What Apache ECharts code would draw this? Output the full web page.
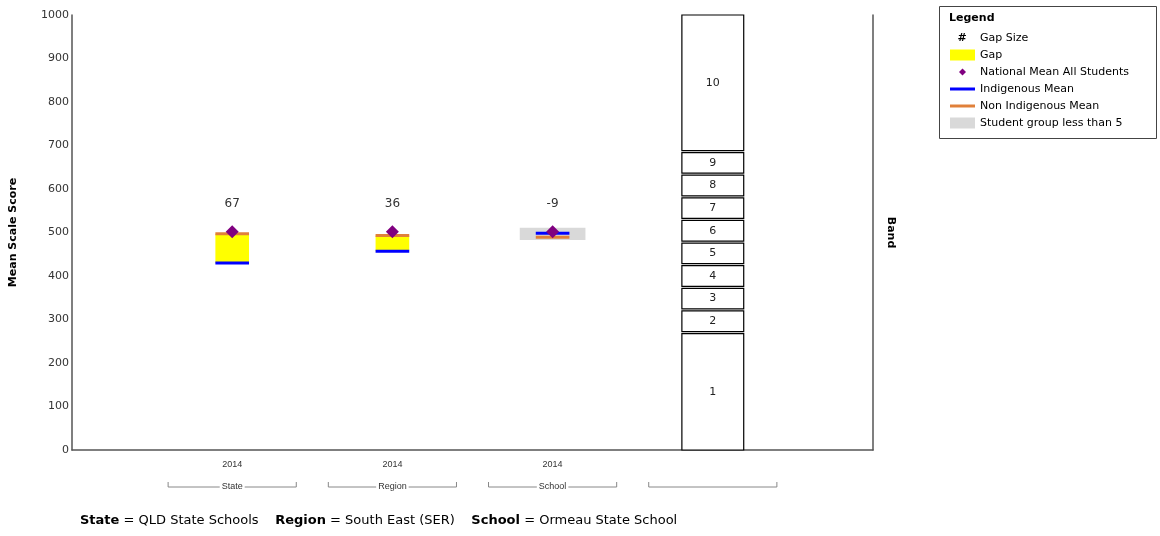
<!DOCTYPE html>
<html><head><meta charset="utf-8">
<script src="https://cdn.jsdelivr.net/npm/echarts@6/dist/echarts.min.js"></script>
<style>html,body{margin:0;padding:0;background:#fff}#c{width:1160px;height:536px}</style>
</head><body><div id="c"></div>
<script>
// ---- data ----
const groups = ['State', 'Region', 'School'];
const years = ['2014', '2014', '2014'];
const indigenousMean = [430, 457, 498];
const nonIndigenousMean = [497, 493, 489];
const nationalMean = [502, 502, 502];
const gapSize = [67, 36, -9];
const smallGroupLow = [null, null, 483];
const smallGroupHigh = [null, null, 511];
const bandEdges = [0, 270, 322, 374, 426, 478, 530, 582, 634, 686, 1000];
const bandLabels = ['1', '2', '3', '4', '5', '6', '7', '8', '9', '10'];
const captionNames = ['State', 'Region', 'School'];
const captionValues = ['QLD State Schools', 'South East (SER)', 'Ormeau State School'];
const yTicks = [0, 100, 200, 300, 400, 500, 600, 700, 800, 900, 1000];

const FONT = "'DejaVu Sans', Arial, sans-serif";
const SMALL = "'Liberation Sans', Arial, sans-serif";
const bandPos = groups.length + 1;

// derived series data
const gapData = [], greyData = [], indData = [], nonData = [], natData = [], labelData = [];
groups.forEach((g, i) => {
  const x = i + 1;
  if (gapSize[i] > 0) gapData.push([x, Math.min(indigenousMean[i], nonIndigenousMean[i]), Math.max(indigenousMean[i], nonIndigenousMean[i])]);
  if (smallGroupLow[i] != null) greyData.push([x, smallGroupLow[i], smallGroupHigh[i]]);
  indData.push([x, indigenousMean[i]]);
  nonData.push([x, nonIndigenousMean[i]]);
  natData.push([x, nationalMean[i]]);
  labelData.push([x, Math.max(indigenousMean[i], nonIndigenousMean[i], nationalMean[i]), gapSize[i]]);
});
const bandData = bandLabels.map((b, i) => [bandPos, bandEdges[i], bandEdges[i + 1]]);

function rectRender(halfW, fill) {
  return function (params, api) {
    const x = api.value(0), lo = api.value(1), hi = api.value(2);
    const p1 = api.coord([x - halfW, hi]);
    const p2 = api.coord([x + halfW, lo]);
    return { type: 'rect', shape: { x: p1[0], y: p1[1], width: p2[0] - p1[0], height: p2[1] - p1[1] }, style: { fill: fill } };
  };
}
function lineRender(halfW, color) {
  return function (params, api) {
    const x = api.value(0), v = api.value(1);
    const p1 = api.coord([x - halfW, v]);
    const p2 = api.coord([x + halfW, v]);
    return { type: 'rect', shape: { x: p1[0], y: p1[1] - 1.5, width: p2[0] - p1[0], height: 3 }, style: { fill: color } };
  };
}

const chart = echarts.init(document.getElementById('c'), null, { renderer: 'canvas' });
const option = {
  animation: false,
  textStyle: { fontFamily: FONT },
  grid: { left: 70, right: 287, top: 15, bottom: 86 },
  xAxis: {
    type: 'value', min: 0, max: 5, interval: 1,
    axisLine: { show: true, lineStyle: { color: '#555', width: 1.5 } },
    axisTick: { show: false }, splitLine: { show: false },
    axisLabel: {
      fontSize: 9, color: '#333', margin: 10, fontFamily: SMALL,
      formatter: v => (v >= 1 && v <= groups.length) ? years[v - 1] : ''
    }
  },
  yAxis: [{
    type: 'value', min: 0, max: 1000, interval: 100,
    name: 'Mean Scale Score', nameLocation: 'middle', nameGap: 53,
    nameTextStyle: { fontWeight: 'bold', fontSize: 11, color: '#000', fontFamily: FONT },
    axisLine: { show: true, lineStyle: { color: '#555', width: 1.5 } },
    axisTick: { show: false }, splitLine: { show: false },
    axisLabel: { fontSize: 11, color: '#333', margin: 3, fontFamily: FONT, formatter: v => yTicks.includes(v) ? String(v) : '' }
  }, {
    type: 'value', min: 0, max: 1000, interval: 100, position: 'right',
    name: 'Band', nameLocation: 'middle', nameGap: 12, nameRotate: -90,
    nameTextStyle: { fontWeight: 'bold', fontSize: 11, color: '#000', fontFamily: FONT },
    axisLine: { show: true, lineStyle: { color: '#555', width: 1.5 } },
    axisTick: { show: false }, splitLine: { show: false }, axisLabel: { show: false }
  }],
  legend: {
    orient: 'vertical', left: 950, top: 31, padding: 0,
    itemWidth: 25, itemHeight: 11, itemGap: 3, selectedMode: false,
    textStyle: { fontSize: 11, color: '#000', lineHeight: 14, fontFamily: FONT },
    data: [
      { name: 'Gap Size', icon: 'rect', itemStyle: { color: 'rgba(0,0,0,0)', borderWidth: 0 } },
      { name: 'Gap', icon: 'rect', itemStyle: { color: '#FFFF00', borderWidth: 0 } },
      { name: 'National Mean All Students', icon: 'path://M0,0M12.5,1.5L16,5L12.5,8.5L9,5ZM25,10', itemStyle: { color: '#800080', borderWidth: 0, opacity: 1 } },
      { name: 'Indigenous Mean', icon: 'path://M0,0M0,3.5L25,3.5L25,6.5L0,6.5ZM25,10', itemStyle: { color: '#0000FF', borderWidth: 0 } },
      { name: 'Non Indigenous Mean', icon: 'path://M0,0M0,3.5L25,3.5L25,6.5L0,6.5ZM25,10', itemStyle: { color: '#E0803A', borderWidth: 0 } },
      { name: 'Student group less than 5', icon: 'rect', itemStyle: { color: '#D9D9D9', borderWidth: 0 } }
    ]
  },
  series: [
    { name: 'Student group less than 5', type: 'custom', renderItem: rectRender(0.205, '#D9D9D9'), data: greyData, itemStyle: { color: '#D9D9D9' }, z: 1 },
    { name: 'Gap', type: 'custom', renderItem: rectRender(0.105, '#FFFF00'), data: gapData, itemStyle: { color: '#FFFF00' }, z: 2 },
    { name: 'Non Indigenous Mean', type: 'custom', renderItem: lineRender(0.105, '#E0803A'), data: nonData, itemStyle: { color: '#E0803A' }, z: 3 },
    { name: 'Indigenous Mean', type: 'custom', renderItem: lineRender(0.105, '#0000FF'), data: indData, itemStyle: { color: '#0000FF' }, z: 4 },
    { name: 'National Mean All Students', type: 'scatter', symbol: 'diamond', symbolSize: 13, data: natData, itemStyle: { color: '#800080', opacity: 1 }, z: 5 },
    {
      name: 'Gap Size', type: 'custom', data: labelData, itemStyle: { color: 'rgba(0,0,0,0)' }, z: 6,
      renderItem: function (params, api) {
        const p = api.coord([api.value(0), api.value(1)]);
        return { type: 'text', x: p[0], y: p[1] - 28, style: { text: String(gapSize[params.dataIndex]), fill: '#333', fontSize: 12, fontFamily: FONT, align: 'center', verticalAlign: 'middle' } };
      }
    },
    {
      name: 'Band', type: 'custom', data: bandData, itemStyle: { color: '#fff' }, z: 2,
      renderItem: function (params, api) {
        const x = api.value(0), lo = api.value(1), hi = api.value(2);
        const p1 = api.coord([x - 0.193, hi]);
        const p2 = api.coord([x + 0.193, lo]);
        const top = p1[1] + (hi < 1000 ? 1 : 0);
        const bot = p2[1] - (lo > 0 ? 1 : 0);
        return {
          type: 'group', children: [
            { type: 'rect', shape: { x: p1[0], y: top, width: p2[0] - p1[0], height: bot - top }, style: { fill: '#fff', stroke: '#000', lineWidth: 1.2 } },
            { type: 'text', x: (p1[0] + p2[0]) / 2, y: (top + bot) / 2, style: { text: bandLabels[params.dataIndex], fill: '#222', fontSize: 11, fontFamily: FONT, align: 'center', verticalAlign: 'middle' } }
          ]
        };
      }
    }
  ]
};
chart.setOption(option);

// decorations: legend frame, brackets, caption
const px = v => chart.convertToPixel({ gridIndex: 0 }, [v, 0])[0];
const graphics = [
  { type: 'rect', shape: { x: 939.5, y: 6.5, width: 217, height: 132 }, style: { fill: 'none', stroke: '#444', lineWidth: 1 }, z: 10 },
  { type: 'text', x: 949, y: 18, style: { text: 'Legend', fontWeight: 'bold', fontSize: 11, fill: '#000', fontFamily: FONT, verticalAlign: 'middle' }, z: 10 },
  { type: 'text', x: 962, y: 38, style: { text: '#', fontWeight: 'bold', fontSize: 11, fill: '#000', fontFamily: FONT, align: 'center', verticalAlign: 'middle' }, z: 10 }
];
const bracketNames = groups.concat(['']);
bracketNames.forEach((name, i) => {
  const c = i + 1;
  const xl = px(c - 0.4), xr = px(c + 0.4), y = 487;
  graphics.push({ type: 'polyline', shape: { points: [[xl, y - 5], [xl, y], [xr, y], [xr, y - 5]] }, style: { stroke: '#888', lineWidth: 1, fill: 'none' }, z: 10 });
  if (name) graphics.push({ type: 'text', x: px(c), y: y, style: { text: name, fontSize: 9, fill: '#333', fontFamily: SMALL, align: 'center', verticalAlign: 'middle', backgroundColor: '#fff', padding: [0, 2] }, z: 11 });
});
graphics.push({
  type: 'text', x: 80, y: 521,
  style: {
    text: captionNames.map((n, i) => '{b|' + n + '} = ' + captionValues[i]).join('    '),
    fontSize: 13, fill: '#000', fontFamily: FONT, verticalAlign: 'middle',
    rich: { b: { fontWeight: 'bold', fontSize: 13, fill: '#000', fontFamily: FONT } }
  }, z: 10
});
chart.setOption({ graphic: graphics });
</script></body></html>
